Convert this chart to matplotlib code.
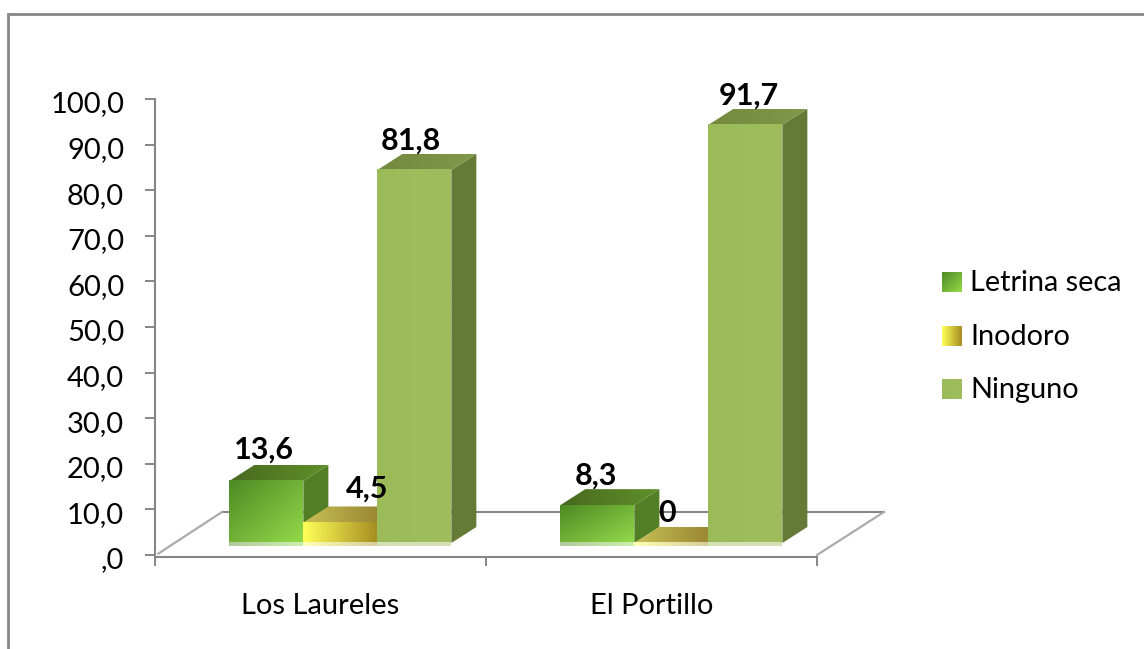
import numpy as np
import matplotlib
matplotlib.use("Agg")
import matplotlib.pyplot as plt
from matplotlib.colors import LinearSegmentedColormap, to_hex, to_rgb
from matplotlib.patches import Polygon
from matplotlib.transforms import ScaledTranslation

categories = ['Los Laureles', 'El Portillo']
series_names = ['Letrina seca', 'Inodoro', 'Ninguno']
letrina = [13.6, 8.3]
inodoro = [4.5, 0]
ninguno = [81.8, 91.7]
value_labels = [['13,6', '8,3'], ['4,5', '0'], ['81,8', '91,7']]
y_ticks = [0, 10, 20, 30, 40, 50, 60, 70, 80, 90, 100]
y_labels = [',0', '10,0', '20,0', '30,0', '40,0', '50,0', '60,0', '70,0', '80,0', '90,0', '100,0']

W, H = 1144, 649
GREY = '#868686'
plt.rcParams['font.family'] = ['Lato', 'DejaVu Sans']

fig = plt.figure(figsize=(W / 100, H / 100), dpi=100)

# overlay in pixel coords for the outer frame and the legend
bg = fig.add_axes([0, 0, 1, 1])
bg.set_xlim(0, W)
bg.set_ylim(H, 0)
bg.axis('off')
bg.plot([8, 8, W], [H, 14, 14], color=GREY, lw=2, solid_joinstyle='miter')

# plot area, y scale is 4.56 px per unit
ax = fig.add_axes([155 / W, 1 - 557 / H, (817 - 155) / W, (557 - 99) / H])
ax.set_xlim(0, 2)
ax.set_ylim(-0.44, 100)
ax.patch.set_alpha(0)

depth_x, depth_y = 25 / 331, 16 / 4.56    # bar depth
floor_x, floor_y = 67 / 331, 43 / 4.56    # floor depth
base = 2.63
bar_w = 74 / 331
centers = [0.56, 1.56]


def gradient(x0, x1, y0, y1, colors, mode, z):
    n = 64
    xx, yy = np.meshgrid(np.linspace(0, 1, n), np.linspace(0, 1, n))
    if mode == 'h':
        g = xx
    else:
        g = (xx + yy) / 2    # dark top left, light bottom right
    cmap = LinearSegmentedColormap.from_list('g', colors)
    return ax.imshow(g, extent=[x0, x1, y0, y1], origin='upper', cmap=cmap, vmin=0, vmax=1,
                     aspect='auto', zorder=z, clip_on=False, interpolation='bilinear')


def bar3d(x0, v, face, mode, top, side, z):
    x1 = x0 + bar_w
    y0, y1 = base, base + v
    # side
    ax.add_patch(Polygon([(x1, y0), (x1 + depth_x, y0 + depth_y), (x1 + depth_x, y1 + depth_y), (x1, y1)],
                         fc=side, ec='none', zorder=z, clip_on=False))
    # top, a gradient cut down to a parallelogram
    im = gradient(x0, x1 + depth_x, y1, y1 + depth_y, top, 'h', z)
    im.set_clip_on(True)
    im.set_clip_box(None)
    im.set_clip_path(Polygon([(x0, y1), (x1, y1), (x1 + depth_x, y1 + depth_y), (x0 + depth_x, y1 + depth_y)],
                             transform=ax.transData))
    # front face and its pale reflection at the foot
    if v > 0:
        gradient(x0, x1, y0, y1, face, mode, z + 0.2)
    light = [to_hex(0.55 + 0.45 * np.array(to_rgb(c))) for c in face]
    gradient(x0, x1, y0 - 0.7, y0, [light[0], light[-1]], 'h', z + 0.2)


styles = [
    (letrina, ['#4e8a24', '#93da4a'], 'd', ['#47691f', '#5f9029'], '#527f25'),
    (inodoro, ['#ffff58', '#a68f22'], 'h', ['#c9bf55', '#8a7628'], '#8a7628'),
    (ninguno, ['#9bbb59', '#9fbd5c'], 'h', ['#74893f', '#7f9849'], '#667a38'),
]

# floor behind the bars
ax.plot([floor_x, 2 + floor_x], [floor_y, floor_y], color=GREY, lw=1.5, zorder=1, clip_on=False)
ax.plot([0.01, floor_x], [0.3, floor_y], color='#ababab', lw=1.6, zorder=1, clip_on=False)
ax.plot([2, 2 + floor_x], [0, floor_y], color='#ababab', lw=1.6, zorder=1, clip_on=False)

label_shift = [[-2, -1], [27, -4], [-3, 3]]   # px, hand moved labels in the original
label_rise = [[17, 16], [20, 16], [15, 15]]
for s, (vals, face, mode, top, side) in enumerate(styles):
    for c in range(len(categories)):
        x0 = centers[c] + (s - 1.5) * bar_w
        bar3d(x0, vals[c], face, mode, top, side, 3 + s)
        ax.annotate(value_labels[s][c], (x0 + bar_w / 2, base + vals[c]),
                    xytext=(label_shift[s][c] * 0.72, label_rise[s][c] * 0.72), textcoords='offset points',
                    ha='center', va='bottom', fontsize=22, fontweight='bold', color='black',
                    zorder=10, annotation_clip=False)

ax.set_yticks(y_ticks, y_labels)
ax.set_xticks([0, 1, 2], ['', '', ''])
ax.set_xticks([0.5, 1.5], categories, minor=True)
ax.tick_params(axis='y', length=7.2, width=1.4, color=GREY, pad=15, labelsize=21)
ax.tick_params(axis='x', which='major', length=6.5, width=1.4, color=GREY)
ax.tick_params(axis='x', which='minor', length=0, pad=26, labelsize=21)
for lab in ax.get_yticklabels():
    lab.set_transform(lab.get_transform() + ScaledTranslation(0, -3 / 100, fig.dpi_scale_trans))
for name in ['top', 'right']:
    ax.spines[name].set_visible(False)
for name in ['left', 'bottom']:
    ax.spines[name].set_color(GREY)
    ax.spines[name].set_linewidth(1.5)


# legend, pixel coords
def swatch(y, colors, mode):
    n = 32
    xx, yy = np.meshgrid(np.linspace(0, 1, n), np.linspace(0, 1, n))
    g = xx if mode == 'h' else (xx + yy) / 2
    cmap = LinearSegmentedColormap.from_list('s', colors)
    bg.imshow(g, extent=[942, 962, y + 10, y - 10], cmap=cmap, vmin=0, vmax=1, aspect='auto')


for name, y, st in zip(series_names, [282, 336, 389], styles):
    swatch(y, st[1], st[2])
    bg.text(970, y + 1, name, fontsize=20.8, va='center', ha='left', color='black')
bg.set_xlim(0, W)
bg.set_ylim(H, 0)

fig.savefig('out.png', dpi=100)
